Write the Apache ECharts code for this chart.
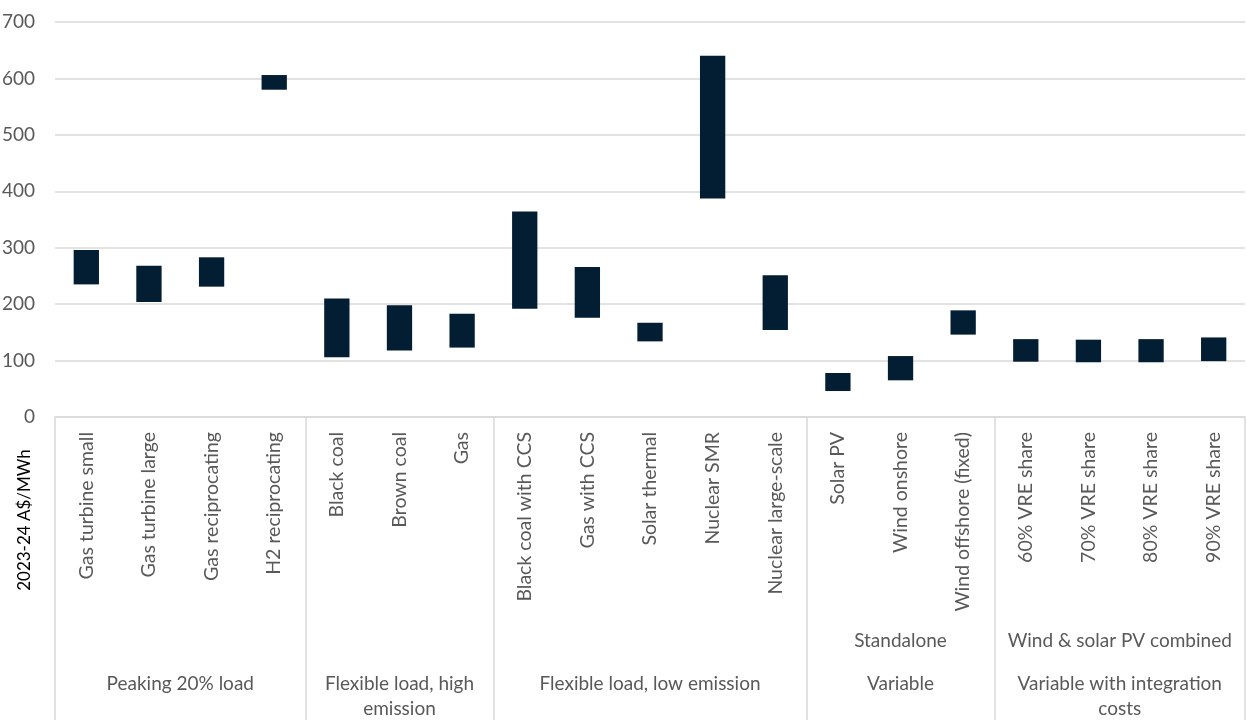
<!DOCTYPE html>
<html>
<head>
<meta charset="utf-8">
<script src="https://cdn.jsdelivr.net/npm/echarts@6/dist/echarts.min.js"></script>
<style>
  html, body { margin: 0; padding: 0; background: #fff; }
  #chart { width: 1247px; height: 720px; }
</style>
</head>
<body>
<div id="chart"></div>
<script>
// Technologies (one bar each), in display order
const technologies = [
  'Gas turbine small', 'Gas turbine large', 'Gas reciprocating', 'H2 reciprocating',
  'Black coal', 'Brown coal', 'Gas',
  'Black coal with CCS', 'Gas with CCS', 'Solar thermal', 'Nuclear SMR', 'Nuclear large-scale',
  'Solar PV', 'Wind onshore', 'Wind offshore (fixed)',
  '60% VRE share', '70% VRE share', '80% VRE share', '90% VRE share'
];

// Cost range, 2023-24 A$/MWh
const lowCost  = [235, 204, 231, 580, 106, 118, 123, 192, 176, 134, 387, 154, 46, 65, 146, 98, 97, 97, 99];
const highCost = [296, 268, 283, 606, 210, 198, 183, 364, 266, 167, 640, 251, 78, 108, 189, 138, 137, 138, 141];

// Outer grouping: name and number of technologies in each group
const groupNames  = ['Peaking 20% load', 'Flexible load, high\nemission', 'Flexible load, low emission', 'Variable', 'Variable with integration\ncosts'];
const groupSizes  = [4, 3, 5, 3, 4];

// Middle grouping (only used inside the variable groups)
const subGroupNames  = ['Standalone', 'Wind & solar PV combined'];
const subGroupStarts = [12, 15];
const subGroupSizes  = [3, 4];

const yTicks = [0, 100, 200, 300, 400, 500, 600, 700];

// Derived positions on a 0..N value scale laid over the category axis
const N = technologies.length;
const groupBounds = [0];
groupSizes.forEach(s => groupBounds.push(groupBounds[groupBounds.length - 1] + s));
const groupCentres = groupNames.map((_, i) => (groupBounds[i] + groupBounds[i + 1]) / 2);
const subCentres = subGroupNames.map((_, i) => subGroupStarts[i] + subGroupSizes[i] / 2);

const FONT = 'Lato';
const GREY = '#595959';
const LINE = '#d9d9d9';
const BAR = '#031d33';

const chart = echarts.init(document.getElementById('chart'));

const rangeData = technologies.map((_, i) => [i, lowCost[i], highCost[i]]);

chart.setOption({
  animation: false,
  textStyle: { fontFamily: FONT },
  grid: { left: 55, right: 2, top: 22, bottom: 303, containLabel: false, outerBoundsMode: 'none' },
  xAxis: [
    {
      type: 'category',
      data: technologies,
      position: 'bottom',
      axisLine: { show: true, lineStyle: { color: LINE, width: 1.5 } },
      axisTick: { show: false },
      axisLabel: { rotate: 90, margin: 15, color: GREY, fontSize: 19.5, fontFamily: FONT, interval: 0 }
    },
    {
      type: 'value',
      min: 0, max: N,
      position: 'bottom',
      axisLine: { show: false },
      splitLine: { show: false },
      axisTick: {
        show: true, length: 310,
        customValues: groupBounds,
        lineStyle: { color: LINE, width: 1.5 }
      },
      axisLabel: {
        show: true,
        customValues: groupCentres,
        margin: 254,
        color: GREY, fontSize: 19, fontFamily: FONT, lineHeight: 25,
        formatter: v => {
          const k = groupCentres.findIndex(c => Math.abs(c - v) < 1e-6);
          return k >= 0 ? groupNames[k] : '';
        }
      }
    },
    {
      type: 'value',
      min: 0, max: N,
      position: 'bottom',
      axisLine: { show: false },
      splitLine: { show: false },
      axisTick: { show: false },
      axisLabel: {
        show: true,
        customValues: subCentres,
        margin: 214,
        color: GREY, fontSize: 19, fontFamily: FONT,
        formatter: v => {
          const k = subCentres.findIndex(c => Math.abs(c - v) < 1e-6);
          return k >= 0 ? subGroupNames[k] : '';
        }
      }
    }
  ],
  yAxis: {
    type: 'value',
    min: yTicks[0], max: yTicks[yTicks.length - 1], interval: 100,
    axisLine: { show: false },
    axisTick: { show: false },
    splitLine: { lineStyle: { color: LINE, width: 1.5 } },
    axisLabel: { color: GREY, fontSize: 19, fontFamily: FONT, margin: 20 }
  },
  graphic: [{
    type: 'text',
    x: 25, y: 520,
    rotation: Math.PI / 2,
    style: {
      text: '2023-24 A$/MWh',
      fill: '#000', font: '17px ' + FONT,
      align: 'center', verticalAlign: 'middle'
    }
  }],
  series: [{
    type: 'custom',
    xAxisIndex: 0,
    encode: { x: 0, y: [1, 2] },
    data: rangeData,
    renderItem: (params, api) => {
      const lo = api.coord([api.value(0), api.value(1)]);
      const hi = api.coord([api.value(0), api.value(2)]);
      const w = api.size([1, 0])[0] * 0.404;
      return {
        type: 'rect',
        shape: { x: lo[0] - w / 2, y: hi[1], width: w, height: lo[1] - hi[1] },
        style: { fill: BAR }
      };
    }
  }]
});
</script>
</body>
</html>
